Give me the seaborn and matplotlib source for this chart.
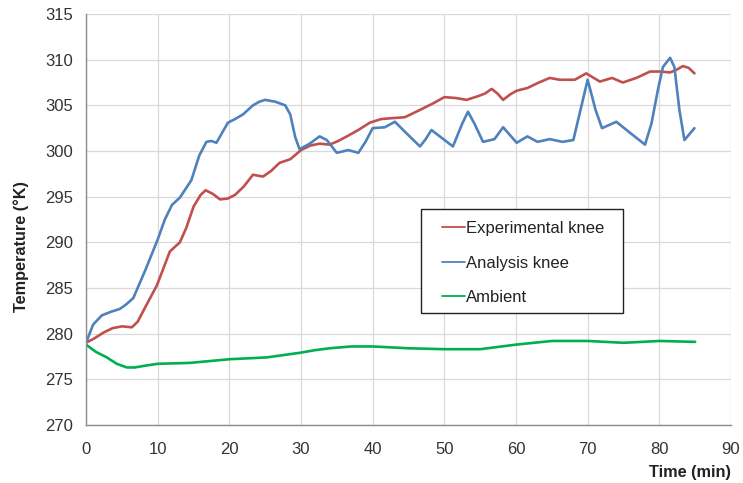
import matplotlib
matplotlib.use("Agg")
import matplotlib.pyplot as plt
import seaborn as sns
import pandas as pd
from matplotlib.ticker import MultipleLocator
from matplotlib.patches import Rectangle

# ---- data ----
t_exp = [0, 1.2, 2.4, 3.7, 5, 6.4, 7.2, 8, 9.9, 11.7, 13.1, 14, 15, 16, 16.7, 17.7, 18.7,
         19.8, 20.8, 22, 23.3, 24.7, 25.8, 27, 28.5, 30, 31.3, 32.6, 34, 35.2, 36.4, 38,
         39.6, 41.2, 42.8, 44.5, 46.6, 48.4, 50, 51.6, 53.1, 54.7, 55.7, 56.6, 57.4, 58.2,
         59.2, 60.1, 61.6, 63.2, 64.7, 66.1, 68.2, 69.8, 71.7, 73.4, 74.9, 76.8, 78.7,
         80.1, 81.5, 82.4, 83.3, 84.1, 84.9]
y_exp = [279, 279.5, 280.1, 280.6, 280.8, 280.7, 281.3, 282.5, 285.3, 289, 290, 291.6,
         293.9, 295.2, 295.7, 295.3, 294.7, 294.8, 295.2, 296.1, 297.4, 297.2, 297.8,
         298.7, 299.1, 300.1, 300.6, 300.8, 300.7, 301.1, 301.6, 302.3, 303.1, 303.5,
         303.6, 303.7, 304.5, 305.2, 305.9, 305.8, 305.6, 306, 306.3, 306.8, 306.3, 305.6,
         306.2, 306.6, 306.9, 307.5, 308, 307.8, 307.8, 308.5, 307.6, 308, 307.5, 308,
         308.7, 308.7, 308.6, 308.9, 309.3, 309.1, 308.5]

t_ana = [0, 1, 2.2, 3.5, 4.7, 5.6, 6.6, 8.3, 10, 11, 12, 13.1, 14.7, 15.8, 16.8, 17.5,
         18.2, 19.8, 20.8, 21.9, 23.3, 24.2, 25, 26.4, 27.8, 28.5, 29.2, 29.8, 31.2, 32.6,
         33.6, 35, 36.6, 38, 39, 40, 41.7, 43.1, 44.9, 46.6, 47.4, 48.2, 49.7, 51.2, 52.5,
         53.3, 54.2, 55.4, 57, 58.2, 60.1, 61.6, 63, 64.7, 66.5, 68, 69, 70, 71.1, 72, 74,
         75.9, 78, 78.9, 79.8, 80.5, 81.5, 82.1, 82.8, 83.5, 84.9]
y_ana = [279, 281, 282, 282.4, 282.7, 283.2, 283.9, 287, 290.3, 292.5, 294.1, 294.9,
         296.8, 299.5, 301, 301.1, 300.9, 303.1, 303.5, 304, 305, 305.4, 305.6, 305.4, 305,
         304, 301.5, 300.2, 300.8, 301.6, 301.2, 299.8, 300.1, 299.8, 301, 302.5, 302.6,
         303.2, 301.8, 300.5, 301.3, 302.3, 301.4, 300.5, 303, 304.3, 303, 301, 301.3,
         302.6, 300.9, 301.6, 301, 301.3, 301, 301.2, 304.5, 307.8, 304.5, 302.5, 303.2,
         302, 300.7, 303, 306.7, 309.2, 310.2, 309.2, 304.5, 301.2, 302.5]

t_amb = [0, 1.4, 2.9, 4.3, 5.7, 6.8, 8.3, 10, 14.5, 20, 25.2, 29.8, 32, 34, 37, 40, 45,
         50, 55, 60, 65, 70, 75, 80, 85]
y_amb = [278.8, 278, 277.4, 276.7, 276.3, 276.3, 276.5, 276.7, 276.8, 277.2, 277.4,
         277.9, 278.2, 278.4, 278.6, 278.6, 278.4, 278.3, 278.3, 278.8, 279.2, 279.2,
         279.0, 279.2, 279.1]

series_names = ["Experimental knee", "Analysis knee", "Ambient"]
series_colors = ["#C0504D", "#4F81BD", "#00B050"]

df = pd.concat([
    pd.DataFrame({"t": t_exp, "T": y_exp, "s": series_names[0]}),
    pd.DataFrame({"t": t_ana, "T": y_ana, "s": series_names[1]}),
    pd.DataFrame({"t": t_amb, "T": y_amb, "s": series_names[2]}),
], ignore_index=True)

sns.set_style("white")
plt.rcParams["font.family"] = ["Liberation Sans", "DejaVu Sans"]

fig = plt.figure(figsize=(7.43, 4.83), dpi=100)
ax = fig.add_axes([86/743, 1 - 425/483, (731 - 86)/743, (425 - 14)/483])

sns.lineplot(data=df, x="t", y="T", hue="s", hue_order=series_names,
             palette=series_colors, sort=False, linewidth=1.9, ax=ax,
             solid_joinstyle="round", solid_capstyle="round")

ax.set_xlim(0, 90)
ax.set_ylim(270, 315)
ax.xaxis.set_major_locator(MultipleLocator(10))
ax.xaxis.set_minor_locator(MultipleLocator(2))
ax.yaxis.set_major_locator(MultipleLocator(5))
ax.yaxis.set_minor_locator(MultipleLocator(1))
ax.grid(True, which="major", color="#D9D9D9", linewidth=0.9)
ax.set_axisbelow(True)
for s in ["top", "right"]:
    ax.spines[s].set_visible(False)
for s in ["left", "bottom"]:
    ax.spines[s].set_color("#8C8C8C")
    ax.spines[s].set_linewidth(1.0)
ax.tick_params(which="both", direction="in", colors="#8C8C8C", labelcolor="#333333",
               labelsize=12)
ax.tick_params(which="major", length=5, width=0.8)
ax.tick_params(which="minor", length=3.5, width=0.8)
ax.tick_params(axis="x", which="major", pad=12)
ax.tick_params(axis="y", which="major", pad=9)

ax.set_xlabel("Time (min)", fontsize=11.7, fontweight="bold", color="#222222")
ax.set_ylabel("Temperature (°K)", fontsize=11.7, fontweight="bold", color="#222222")
ax.xaxis.set_label_coords(1.0, -0.097)
ax.xaxis.label.set_horizontalalignment("right")
ax.yaxis.set_label_coords(-0.088, 0.433)

# legend frame (box) drawn separately, legend entries without frame
box = Rectangle(((421 - 86) / 645, (425 - 313) / 411), (623 - 421) / 645,
                (313 - 209) / 411, transform=ax.transAxes, facecolor="white",
                edgecolor="#222222", linewidth=1.0, zorder=4.5)
ax.add_patch(box)
leg = ax.legend(loc="upper left", bbox_to_anchor=((442 - 86) / 645, (425 - 221) / 411),
                borderaxespad=0, frameon=False, fontsize=12,
                handlelength=1.38, handletextpad=0.05, labelspacing=1.18,
                borderpad=0, title=None)
leg.set_zorder(5)
for text in leg.get_texts():
    text.set_color("#222222")
for line in leg.get_lines():
    line.set_linewidth(1.3)

fig.savefig("out.png", dpi=100)
